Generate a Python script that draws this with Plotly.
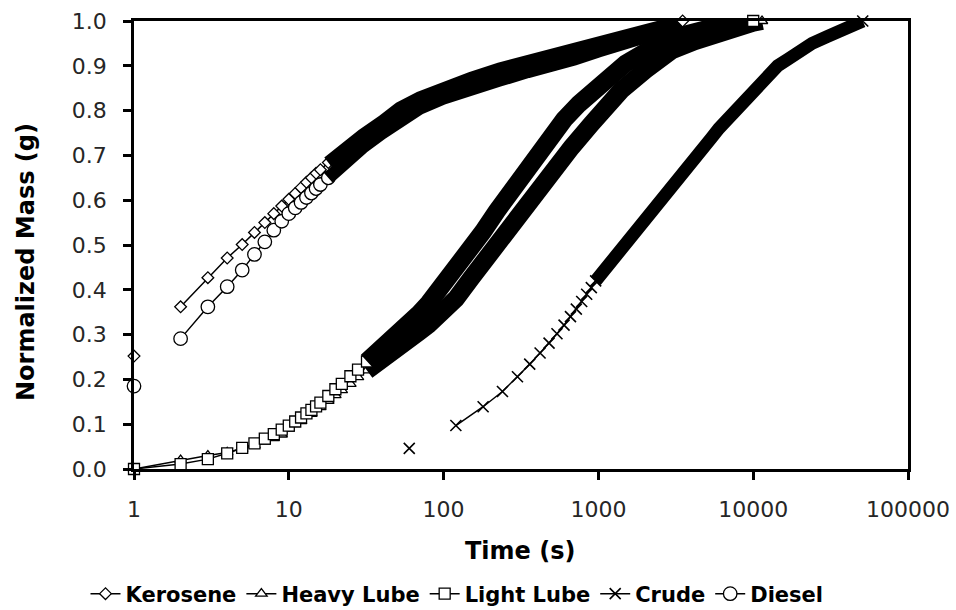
import plotly.graph_objects as go

# ---------------- data ----------------
x_tick_vals = [1, 10, 100, 1000, 10000, 100000]
x_tick_text = ["1", "10", "100", "1000", "10000", "100000"]
y_tick_vals = [0.0, 0.1, 0.2, 0.3, 0.4, 0.5, 0.6, 0.7, 0.8, 0.9, 1.0]
y_tick_text = ["0.0", "0.1", "0.2", "0.3", "0.4", "0.5", "0.6", "0.7", "0.8", "0.9", "1.0"]

ker_t = [1, 2, 3, 4, 5, 6, 7, 8, 9, 10, 11, 12, 13, 14, 15, 16, 18, 20, 25, 30, 40, 52, 70,
         100, 150, 230, 350, 500, 700, 1000, 1500, 2200, 2800, 3500]
ker_m = [0.252, 0.362, 0.427, 0.471, 0.501, 0.528, 0.550, 0.570, 0.587, 0.602, 0.615, 0.628,
         0.640, 0.650, 0.660, 0.668, 0.684, 0.698, 0.725, 0.745, 0.775, 0.805, 0.828,
         0.850, 0.872, 0.893, 0.910, 0.922, 0.936, 0.950, 0.965, 0.979, 0.990, 1.000]

hl_t = [1, 2, 3, 4, 5, 6, 7, 8, 9, 10, 12, 14, 16, 18, 20, 22, 25, 28, 32, 36, 40, 45, 50, 60,
        70, 80, 100, 120, 150, 200, 244, 300, 400, 500, 670, 900, 1200, 1400, 2000, 3000,
        4200, 6000, 8000, 10000, 11400]
hl_m = [0.0, 0.020, 0.030, 0.037, 0.045, 0.053, 0.061, 0.069, 0.077, 0.090, 0.107, 0.123,
        0.138, 0.152, 0.165, 0.176, 0.190, 0.205, 0.220, 0.235, 0.247, 0.260, 0.272, 0.290,
        0.307, 0.322, 0.350, 0.380, 0.425, 0.482, 0.526, 0.570, 0.630, 0.670, 0.718, 0.770,
        0.820, 0.845, 0.890, 0.935, 0.955, 0.975, 0.988, 0.996, 1.000]

ll_t = [1, 2, 3, 4, 5, 6, 7, 8, 9, 10, 11, 12, 13, 14, 15, 16, 18, 20, 22, 25, 28, 32, 36, 40,
        45, 50, 60, 70, 80, 100, 120, 150, 180, 220, 270, 330, 400, 480, 600, 750, 950, 1200,
        1500, 2000, 2600, 3500, 5000, 7000, 10000]
ll_m = [0.0, 0.011, 0.022, 0.035, 0.047, 0.057, 0.068, 0.078, 0.088, 0.097, 0.106, 0.115,
        0.124, 0.132, 0.140, 0.148, 0.163, 0.178, 0.190, 0.207, 0.222, 0.240, 0.255, 0.270,
        0.285, 0.300, 0.325, 0.348, 0.370, 0.410, 0.445, 0.490, 0.530, 0.575, 0.620, 0.665,
        0.705, 0.740, 0.780, 0.815, 0.850, 0.880, 0.905, 0.930, 0.950, 0.968, 0.982, 0.992,
        1.000]

crude_t = [60, 120, 180, 240, 300, 360, 420, 480, 540, 600, 660, 720, 780, 840, 900, 960,
           1200, 1500, 1800, 2100, 2400, 2700, 3000, 3600, 4200, 4800, 5400, 6000, 7200,
           8400, 9600, 10800, 12000, 14400, 16800, 19200, 24000, 30000, 36000, 42000, 48000,
           51000]
crude_m = [0.046, 0.097, 0.139, 0.173, 0.206, 0.234, 0.259, 0.281, 0.302, 0.321, 0.340,
           0.357, 0.374, 0.390, 0.405, 0.420, 0.460, 0.500, 0.535, 0.560, 0.585, 0.605,
           0.625, 0.660, 0.690, 0.715, 0.740, 0.760, 0.790, 0.815, 0.840, 0.860, 0.875,
           0.900, 0.915, 0.930, 0.950, 0.965, 0.975, 0.985, 0.995, 1.000]

dsl_t = [1, 2, 3, 4, 5, 6, 7, 8, 9, 10, 11, 12, 13, 14, 15, 16, 18, 20, 25, 30, 40, 52, 70,
         100, 150, 230, 350, 500, 700, 1000, 1500, 2200, 2800, 3400]
dsl_m = [0.185, 0.291, 0.362, 0.407, 0.444, 0.479, 0.507, 0.533, 0.553, 0.570, 0.583, 0.595,
         0.606, 0.616, 0.626, 0.635, 0.650, 0.665, 0.695, 0.718, 0.750, 0.778, 0.805,
         0.828, 0.850, 0.868, 0.887, 0.900, 0.915, 0.933, 0.950, 0.966, 0.980, 0.995]

# ---------------- styling ----------------
FONT = "DejaVu Sans"
W, H = 956, 610
ML, MR, MT, MB = 134, 48, 21, 141
PW, PH = W - ML - MR, H - MT - MB

series = [
    dict(name="Kerosene", t=ker_t, m=ker_m, symbol="diamond", size=9, gap_first=True,
         dense_from=18, band=13, end=True),
    dict(name="Heavy Lube", t=hl_t, m=hl_m, symbol="triangle-up", size=10, gap_first=False,
         dense_from=32, band=18, end=True),
    dict(name="Light Lube", t=ll_t, m=ll_m, symbol="square", size=11, gap_first=False,
         dense_from=32, band=18, end=True),
    dict(name="Crude", t=crude_t, m=crude_m, symbol="x-thin", size=11, gap_first=True,
         dense_from=960, band=13, end=True),
    dict(name="Diesel", t=dsl_t, m=dsl_m, symbol="circle", size=13.5, gap_first=True,
         dense_from=18, band=13, end=False),
]

fig = go.Figure()
end_traces = []
for s in series:
    t, m = s["t"], s["m"]
    sp_t = [v for v in t if v <= s["dense_from"]]
    sp_m = m[:len(sp_t)]
    if s["gap_first"]:
        sp_t = [sp_t[0], None] + sp_t[1:]
        sp_m = [sp_m[0], None] + sp_m[1:]
    if s["symbol"] == "x-thin":
        marker = dict(symbol="x-thin", size=s["size"], line=dict(color="black", width=1.6),
                      color="black")
    else:
        marker = dict(symbol=s["symbol"], size=s["size"], color="white",
                      line=dict(color="black", width=1.3))
    fig.add_trace(go.Scatter(
        x=sp_t, y=sp_m, name=s["name"], mode="lines+markers",
        line=dict(color="black", width=1.5), marker=marker,
        connectgaps=False, cliponaxis=False,
    ))
    k = len([v for v in t if v < s["dense_from"]])
    fig.add_trace(go.Scatter(
        x=t[k:], y=m[k:], mode="lines", showlegend=False, hoverinfo="skip",
        line=dict(color="black", width=s["band"]), cliponaxis=False,
    ))
    if s["end"]:
        end_traces.append(go.Scatter(
            x=[t[-1]], y=[m[-1]], mode="markers", showlegend=False, hoverinfo="skip",
            marker=marker, cliponaxis=False,
        ))
for tr in end_traces:
    fig.add_trace(tr)

axis_common = dict(
    showline=True, linecolor="black", linewidth=2.5, mirror=True,
    ticks="outside", ticklen=8, tickwidth=2.5, tickcolor="black",
    showgrid=False, zeroline=False, automargin=False,
    tickfont=dict(family=FONT, size=22, color="#262626"),
)
fig.update_xaxes(type="log", range=[0, 5], tickvals=x_tick_vals, ticktext=x_tick_text,
                 ticklabelstandoff=11, **axis_common)
fig.update_yaxes(range=[0, 1], tickvals=y_tick_vals, ticktext=y_tick_text,
                 ticklabelstandoff=12, **axis_common)


def px_x(px):
    return (px - ML) / PW


def px_y(py):
    return (H - MB - py) / PH


fig.update_layout(
    width=W, height=H,
    margin=dict(l=ML, r=MR, t=MT, b=MB, autoexpand=False),
    paper_bgcolor="white", plot_bgcolor="white",
    font=dict(family=FONT, color="black"),
    showlegend=True,
    legend=dict(orientation="h", x=px_x(457), xanchor="center",
                yref="container", y=16 / H, yanchor="middle",
                font=dict(family=FONT, size=21, weight="bold", color="black"),
                tracegroupgap=0),
    annotations=[
        dict(text="Time (s)", x=px_x(520), y=px_y(551), xref="paper", yref="paper",
             xanchor="center", yanchor="middle", showarrow=False,
             font=dict(family=FONT, size=24, weight="bold", color="black")),
        dict(text="Normalized Mass (g)", x=px_x(26), y=px_y(262), xref="paper", yref="paper",
             showarrow=False, textangle=-90, xanchor="center", yanchor="middle",
             font=dict(family=FONT, size=24, weight="bold", color="black")),
    ],
)

fig.write_html("out.html")
